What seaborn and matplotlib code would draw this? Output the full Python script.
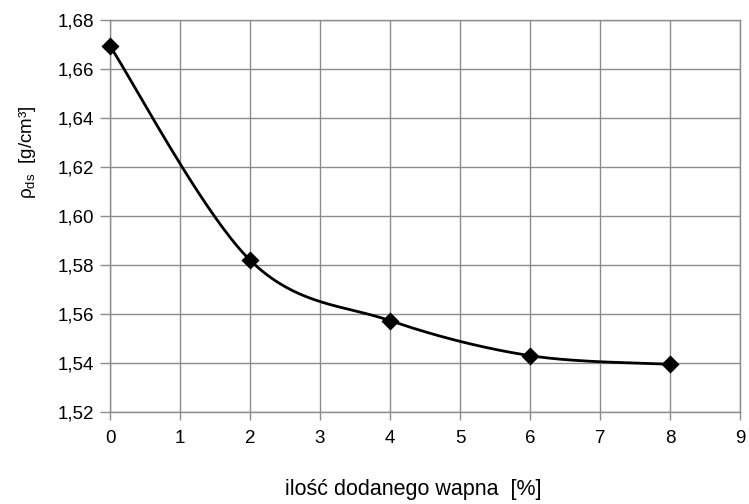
import numpy as np
import pandas as pd
import matplotlib
matplotlib.use("Agg")
import matplotlib.pyplot as plt
import seaborn as sns
from matplotlib.ticker import FuncFormatter, MultipleLocator

# data
lime_pct = [0, 2, 4, 6, 8]
density = [1.6694, 1.5820, 1.5573, 1.5430, 1.5395]
xlabel = "ilość dodanego wapna  [%]"
ylabel = "ρ$_{\\mathrm{ds}}$  [g/cm³]"


def catmull_rom(xs, ys, n=40):
    P = np.column_stack([xs, ys]).astype(float)
    P = np.vstack([P[0], P, P[-1]])
    out = []
    for i in range(1, len(P) - 2):
        p0, p1, p2, p3 = P[i - 1], P[i], P[i + 1], P[i + 2]
        t0 = (p2 - p0) / 2
        t1 = (p3 - p1) / 2
        t = np.linspace(0, 1, n)[:, None]
        h00 = 2 * t**3 - 3 * t**2 + 1
        h10 = t**3 - 2 * t**2 + t
        h01 = -2 * t**3 + 3 * t**2
        h11 = t**3 - t**2
        seg = h00 * p1 + h10 * t0 + h01 * p2 + h11 * t1
        out.append(seg if i == 1 else seg[1:])
    arr = np.vstack(out)
    return arr[:, 0], arr[:, 1]


sns.set_theme(style="white")
plt.rcParams["font.family"] = ["Liberation Sans", "DejaVu Sans"]
plt.rcParams["mathtext.fontset"] = "custom"
plt.rcParams["mathtext.rm"] = "Liberation Sans"
plt.rcParams["mathtext.it"] = "Liberation Sans:italic"

fig = plt.figure(figsize=(7.49, 5.04), dpi=100)
ax = fig.add_axes([110 / 749, 92 / 504, 630 / 749, 392 / 504])

sx, sy = catmull_rom(lime_pct, density)
curve = pd.DataFrame({"x": sx, "y": sy})
sns.lineplot(data=curve, x="x", y="y", ax=ax, color="black", lw=2.0, sort=False,
             estimator=None, zorder=3)
pts = pd.DataFrame({"x": lime_pct, "y": density})
sns.scatterplot(data=pts, x="x", y="y", ax=ax, marker="D", s=85, color="black",
                edgecolor="black", linewidth=0, zorder=4, clip_on=False)

ax.set_xlim(0, 9)
ax.set_ylim(1.52, 1.68)
ax.xaxis.set_major_locator(MultipleLocator(1))
ax.yaxis.set_major_locator(MultipleLocator(0.02))
ax.yaxis.set_major_formatter(FuncFormatter(lambda v, p: f"{v:.2f}".replace(".", ",")))
ax.xaxis.set_major_formatter(FuncFormatter(lambda v, p: f"{int(round(v))}"))

ax.grid(True, color="#8c8c8c", lw=1.0)
for s in ax.spines.values():
    s.set_color("#8c8c8c")
    s.set_linewidth(1.0)
ax.tick_params(axis="both", which="major", direction="out", width=1.0,
               color="#8c8c8c", labelsize=13.5, labelcolor="black",
               bottom=True, left=True)
ax.tick_params(axis="y", length=7, pad=4.5)
ax.tick_params(axis="x", length=6, pad=7)

ax.set_xlabel(xlabel, fontsize=15.5, color="black")
ax.set_ylabel(ylabel, fontsize=13.5, color="black")
ax.xaxis.set_label_coords((413 - 110) / 630, -(489 - 412) / 392)
ax.yaxis.set_label_coords(-(110 - 27) / 630, (412 - 152) / 392)
ax.xaxis.label.set_va("center")
ax.yaxis.label.set_va("center")

fig.savefig("out.png", dpi=100)
